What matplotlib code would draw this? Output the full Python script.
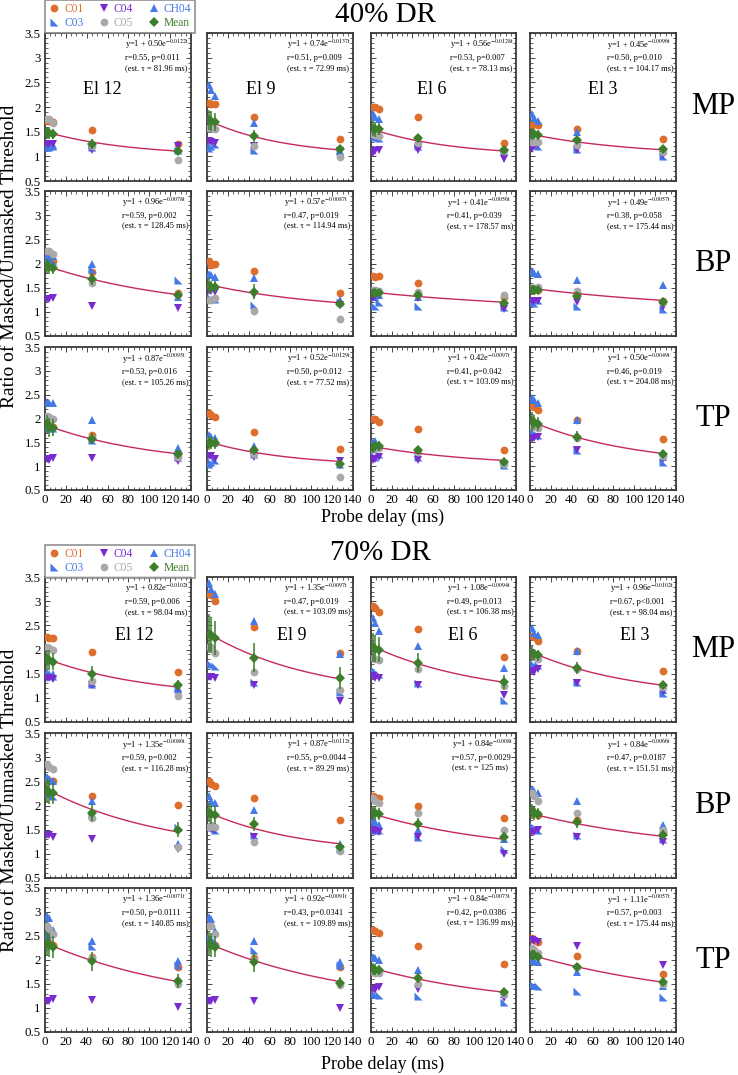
import numpy as np
import matplotlib
matplotlib.use("Agg")
import matplotlib.pyplot as plt
from matplotlib.ticker import MultipleLocator, AutoMinorLocator, FuncFormatter
from matplotlib.lines import Line2D

plt.rcParams['font.family'] = ['Liberation Serif', 'DejaVu Serif']
plt.rcParams['mathtext.fontset'] = 'stix'

# ---------------- data ----------------
delays = [1.5, 4, 8, 45, 128]
electrodes = ['El 12', 'El 9', 'El 6', 'El 3']
row_names = ['MP', 'BP', 'TP']
group_titles = ['40% DR', '70% DR']
series_names = ['C01', 'C03', 'C04', 'C05', 'CH04']

# 40% DR  (each: electrodes El12, El9, El6, El3 x delays)
dr40_mp_C01 = [[1.72, 1.72, 1.70, 1.54, 1.25], [2.09, 2.07, 2.06, 1.79, 1.36], [2.00, 2.00, 1.96, 1.79, 1.28], [1.63, 1.65, 1.63, 1.55, 1.36]]
dr40_mp_C03 = [[1.18, 1.18, 1.20, 1.18, 1.12], [1.17, 1.20, 1.25, 1.13, 1.10], [1.40, 1.42, 1.38, 1.20, 1.10], [1.35, 1.25, 1.20, 1.15, 1.00]]
dr40_mp_C04 = [[1.25, 1.25, 1.25, 1.13, 1.20], [1.32, 1.30, 1.28, 1.20, 1.10], [1.07, 1.10, 1.12, 1.12, 0.95], [1.15, 1.20, 1.22, 1.12, 1.02]]
dr40_mp_C05 = [[1.75, 1.75, 1.68, 1.20, 0.92], [1.58, 1.57, 1.55, 1.20, 0.99], [1.45, 1.43, 1.42, 1.27, 1.10], [1.30, 1.30, 1.30, 1.22, 1.08]]
dr40_mp_CH04 = [[1.22, 1.22, 1.22, 1.22, 1.15], [2.44, 2.35, 2.23, 1.68, 1.10], [1.85, 1.80, 1.75, 1.30, 1.15], [1.85, 1.78, 1.72, 1.50, 1.10]]
dr40_mp_mean = [[1.47, 1.48, 1.45, 1.25, 1.11], [1.74, 1.72, 1.70, 1.41, 1.15], [1.56, 1.55, 1.55, 1.37, 1.13], [1.45, 1.45, 1.44, 1.33, 1.15]]
dr40_mp_err = [[0.12, 0.12, 0.10, 0.10, 0.06], [0.20, 0.20, 0.18, 0.13, 0.06], [0.15, 0.15, 0.12, 0.08, 0.05], [0.12, 0.10, 0.10, 0.08, 0.05]]

dr40_bp_C01 = [[2.09, 2.08, 2.05, 1.82, 1.38], [2.05, 1.97, 1.99, 1.85, 1.40], [1.74, 1.72, 1.74, 1.60, 1.30], [1.48, 1.46, 1.45, 1.38, 1.22]]
dr40_bp_C03 = [[2.12, 2.10, 2.05, 1.88, 1.65], [1.30, 1.28, 1.26, 1.15, 1.20], [1.15, 1.12, 1.20, 1.13, 1.10], [1.20, 1.18, 1.25, 1.12, 1.05]]
dr40_bp_C04 = [[1.27, 1.27, 1.29, 1.12, 1.08], [1.44, 1.44, 1.42, 1.35, 1.15], [1.28, 1.32, 1.35, 1.28, 1.06], [1.22, 1.22, 1.22, 1.20, 1.10]]
dr40_bp_C05 = [[2.26, 2.25, 2.20, 1.59, 1.35], [1.25, 1.25, 1.28, 1.01, 0.85], [1.45, 1.45, 1.44, 1.42, 1.35], [1.50, 1.50, 1.52, 1.43, 1.20]]
dr40_bp_CH04 = [[2.20, 2.18, 2.15, 2.00, 1.30], [1.78, 1.76, 1.73, 1.70, 1.24], [1.38, 1.30, 1.35, 1.30, 1.20], [1.85, 1.80, 1.78, 1.66, 1.55]]
dr40_bp_mean = [[1.94, 1.93, 1.91, 1.68, 1.34], [1.54, 1.52, 1.52, 1.42, 1.16], [1.40, 1.40, 1.40, 1.35, 1.18], [1.45, 1.45, 1.45, 1.33, 1.21]]
dr40_bp_err = [[0.15, 0.15, 0.12, 0.12, 0.08], [0.15, 0.12, 0.12, 0.15, 0.06], [0.08, 0.08, 0.08, 0.06, 0.05], [0.10, 0.10, 0.08, 0.08, 0.06]]

dr40_tp_C01 = [[1.90, 1.85, 1.82, 1.65, 1.28], [2.11, 2.07, 2.04, 1.71, 1.37], [1.98, 1.98, 1.93, 1.77, 1.33], [2.27, 2.25, 2.18, 1.96, 1.57]]
dr40_tp_C03 = [[1.85, 1.80, 1.80, 1.55, 1.20], [1.05, 1.08, 1.12, 1.25, 1.05], [1.25, 1.20, 1.25, 1.20, 1.02], [1.75, 1.70, 1.65, 1.33, 1.08]]
dr40_tp_C04 = [[1.14, 1.12, 1.18, 1.17, 1.10], [1.21, 1.22, 1.15, 1.20, 1.10], [1.12, 1.15, 1.20, 1.13, 1.05], [1.57, 1.60, 1.62, 1.33, 1.15]]
dr40_tp_C05 = [[2.05, 2.03, 2.00, 1.60, 1.20], [1.52, 1.50, 1.48, 1.25, 0.78], [1.35, 1.35, 1.38, 1.30, 1.05], [1.85, 1.82, 1.80, 1.60, 1.22]]
dr40_tp_CH04 = [[2.35, 2.32, 2.32, 1.96, 1.39], [1.66, 1.62, 1.60, 1.42, 1.10], [1.50, 1.52, 1.45, 1.35, 1.10], [2.43, 2.38, 2.32, 1.96, 1.20]]
dr40_tp_mean = [[1.88, 1.82, 1.81, 1.58, 1.25], [1.49, 1.49, 1.49, 1.33, 1.05], [1.39, 1.42, 1.42, 1.33, 1.08], [1.94, 1.92, 1.88, 1.62, 1.26]]
dr40_tp_err = [[0.20, 0.20, 0.18, 0.12, 0.08], [0.15, 0.12, 0.12, 0.10, 0.08], [0.12, 0.10, 0.10, 0.08, 0.05], [0.20, 0.15, 0.15, 0.12, 0.08]]

# 70% DR
dr70_mp_C01 = [[2.26, 2.23, 2.23, 1.94, 1.53], [3.15, 3.12, 3.00, 2.47, 1.92], [2.90, 2.85, 2.78, 2.42, 1.84], [2.27, 2.25, 2.18, 1.96, 1.56]]
dr70_mp_C03 = [[1.50, 1.48, 1.45, 1.28, 1.18], [1.72, 1.70, 1.65, 1.32, 1.13], [1.60, 1.55, 1.50, 1.30, 0.95], [1.72, 1.70, 1.68, 1.33, 1.10]]
dr70_mp_C04 = [[1.42, 1.42, 1.40, 1.27, 1.20], [1.44, 1.43, 1.42, 1.26, 0.93], [1.45, 1.42, 1.42, 1.26, 1.05], [1.55, 1.53, 1.60, 1.30, 1.15]]
dr70_mp_C05 = [[2.06, 2.03, 1.98, 1.35, 1.03], [2.06, 2.06, 1.93, 1.54, 1.17], [1.82, 1.80, 1.78, 1.60, 1.25], [1.95, 1.85, 1.80, 1.60, 1.22]]
dr70_mp_CH04 = [[1.51, 1.50, 1.50, 1.30, 1.20], [3.38, 3.25, 3.15, 2.60, 1.90], [2.65, 2.55, 2.38, 2.08, 1.62], [2.44, 2.35, 2.30, 1.97, 1.16]]
dr70_mp_mean = [[1.80, 1.78, 1.75, 1.50, 1.26], [2.33, 2.30, 2.23, 1.83, 1.41], [2.05, 2.02, 2.00, 1.73, 1.33], [1.92, 1.90, 1.88, 1.62, 1.26]]
dr70_mp_err = [[0.20, 0.20, 0.18, 0.15, 0.10], [0.40, 0.38, 0.35, 0.30, 0.22], [0.30, 0.28, 0.25, 0.20, 0.15], [0.15, 0.12, 0.12, 0.12, 0.06]]

dr70_bp_C01 = [[2.55, 2.50, 2.50, 2.20, 2.02], [2.50, 2.45, 2.40, 2.15, 1.70], [2.20, 2.18, 2.15, 1.98, 1.75], [1.90, 1.85, 1.80, 1.70, 1.45]]
dr70_bp_C03 = [[2.30, 2.25, 2.20, 1.80, 1.55], [1.60, 1.55, 1.50, 1.40, 1.10], [1.55, 1.50, 1.50, 1.35, 1.10], [1.60, 1.55, 1.50, 1.40, 1.30]]
dr70_bp_C04 = [[1.40, 1.38, 1.35, 1.30, 1.10], [1.55, 1.52, 1.50, 1.35, 1.10], [1.50, 1.48, 1.45, 1.35, 1.00], [1.45, 1.45, 1.50, 1.35, 1.25]]
dr70_bp_C05 = [[2.85, 2.80, 2.75, 1.75, 1.15], [1.55, 1.60, 1.55, 1.25, 1.05], [2.15, 2.10, 2.05, 1.85, 1.50], [2.25, 2.20, 2.10, 1.85, 1.50]]
dr70_bp_CH04 = [[2.60, 2.55, 2.50, 2.10, 1.20], [2.20, 2.10, 2.05, 1.90, 1.20], [1.70, 1.65, 1.60, 1.50, 1.30], [2.35, 2.30, 2.25, 2.10, 1.60]]
dr70_bp_mean = [[2.30, 2.28, 2.25, 1.85, 1.50], [1.85, 1.82, 1.80, 1.62, 1.15], [1.85, 1.85, 1.82, 1.62, 1.35], [1.88, 1.85, 1.82, 1.65, 1.40]]
dr70_bp_err = [[0.25, 0.25, 0.22, 0.18, 0.15], [0.20, 0.20, 0.18, 0.15, 0.10], [0.15, 0.15, 0.12, 0.12, 0.10], [0.15, 0.15, 0.12, 0.12, 0.10]]

dr70_tp_C01 = [[2.42, 2.35, 2.32, 2.06, 1.85], [2.42, 2.35, 2.32, 2.04, 1.85], [2.63, 2.60, 2.57, 2.29, 1.92], [2.45, 2.42, 2.38, 2.08, 1.71]]
dr70_tp_C03 = [[2.50, 2.55, 2.60, 2.30, 1.90], [2.50, 2.45, 2.40, 2.20, 1.90], [1.30, 1.30, 1.28, 1.25, 1.13], [1.48, 1.48, 1.45, 1.36, 1.22]]
dr70_tp_C04 = [[1.14, 1.15, 1.18, 1.16, 1.03], [1.14, 1.15, 1.17, 1.14, 1.01], [1.40, 1.38, 1.43, 1.40, 1.20], [2.42, 2.40, 2.38, 2.29, 1.90]]
dr70_tp_C05 = [[2.70, 2.65, 2.55, 2.05, 1.50], [2.70, 2.70, 2.55, 2.00, 1.47], [1.75, 1.73, 1.72, 1.50, 1.30], [2.24, 2.20, 2.15, 1.85, 1.50]]
dr70_tp_CH04 = [[2.91, 2.88, 2.62, 2.39, 1.97], [2.90, 2.85, 2.60, 2.40, 1.95], [2.07, 2.05, 2.00, 1.80, 1.30], [2.00, 1.98, 1.95, 1.76, 1.46]]
dr70_tp_mean = [[2.33, 2.32, 2.27, 1.97, 1.56], [2.33, 2.32, 2.28, 1.95, 1.53], [1.81, 1.80, 1.79, 1.62, 1.33], [2.11, 2.10, 2.07, 1.86, 1.55]]
dr70_tp_err = [[0.25, 0.25, 0.22, 0.20, 0.15], [0.25, 0.25, 0.22, 0.20, 0.12], [0.12, 0.12, 0.10, 0.10, 0.08], [0.10, 0.10, 0.08, 0.08, 0.06]]

# fit annotations (rows MP, BP, TP x electrodes)
dr40_fit_a = [["0.50", "0.74", "0.56", "0.45"], ["0.96", "0.57", "0.41", "0.49"], ["0.87", "0.52", "0.42", "0.50"]]
dr40_fit_b = [["0.0122", "0.0137", "0.0128", "0.0096"], ["0.0078", "0.0087", "0.0056", "0.0057"], ["0.0095", "0.0129", "0.0097", "0.0049"]]
dr40_r = [["0.55", "0.51", "0.53", "0.50"], ["0.59", "0.47", "0.41", "0.38"], ["0.53", "0.50", "0.41", "0.46"]]
dr40_p = [["=0.011", "=0.009", "=0.007", "=0.010"], ["=0.002", "=0.019", "=0.039", "=0.058"], ["=0.016", "=0.012", "=0.042", "=0.019"]]
dr40_tau = [["81.96", "72.99", "78.13", "104.17"], ["128.45", "114.94", "178.57", "175.44"], ["105.26", "77.52", "103.09", "204.08"]]

dr70_fit_a = [["0.82", "1.35", "1.08", "0.96"], ["1.35", "0.87", "0.84", "0.84"], ["1.36", "0.92", "0.84", "1.11"]]
dr70_fit_b = [["0.0102", "0.0097", "0.0094", "0.0102"], ["0.0086", "0.0112", "0.008", "0.0066"], ["0.0071", "0.0091", "0.0073", "0.0057"]]
dr70_r = [["0.59", "0.47", "0.49", "0.67"], ["0.59", "0.55", "0.57", "0.47"], ["0.50", "0.43", "0.42", "0.57"]]
dr70_p = [["=0.006", "=0.019", "=0.013", "<0.001"], ["=0.002", "=0.0044", "=0.0029", "=0.0187"], ["=0.0111", "=0.0341", "=0.0386", "=0.003"]]
dr70_tau = [["98.04", "103.09", "106.38", "98.04"], ["116.28", "89.29", "125", "151.51"], ["140.85", "109.89", "136.99", "175.44"]]

# curve drawn in each panel (mostly matches the printed fit;
# 40% TP El 3 and 70% TP El 9 show different curves)
dr40_curve_a = [[0.50, 0.74, 0.56, 0.45], [0.96, 0.57, 0.41, 0.49], [0.87, 0.52, 0.42, 0.95]]
dr40_curve_b = [[0.0122, 0.0137, 0.0128, 0.0096], [0.0078, 0.0087, 0.0056, 0.0057], [0.0095, 0.0129, 0.0097, 0.0100]]
dr70_curve_a = [[0.82, 1.35, 1.08, 0.96], [1.35, 0.87, 0.84, 0.84], [1.36, 1.36, 0.84, 1.11]]
dr70_curve_b = [[0.0102, 0.0097, 0.0094, 0.0102], [0.0086, 0.0112, 0.008, 0.0066], [0.0071, 0.0071, 0.0073, 0.0057]]

# ---------------- assemble ----------------
groups = [
    {
        'rows': [
            {'C01': dr40_mp_C01, 'C03': dr40_mp_C03, 'C04': dr40_mp_C04, 'C05': dr40_mp_C05, 'CH04': dr40_mp_CH04, 'mean': dr40_mp_mean, 'err': dr40_mp_err},
            {'C01': dr40_bp_C01, 'C03': dr40_bp_C03, 'C04': dr40_bp_C04, 'C05': dr40_bp_C05, 'CH04': dr40_bp_CH04, 'mean': dr40_bp_mean, 'err': dr40_bp_err},
            {'C01': dr40_tp_C01, 'C03': dr40_tp_C03, 'C04': dr40_tp_C04, 'C05': dr40_tp_C05, 'CH04': dr40_tp_CH04, 'mean': dr40_tp_mean, 'err': dr40_tp_err},
        ],
        'a': dr40_fit_a, 'b': dr40_fit_b, 'r': dr40_r, 'p': dr40_p, 'tau': dr40_tau,
        'ca': dr40_curve_a, 'cb': dr40_curve_b,
    },
    {
        'rows': [
            {'C01': dr70_mp_C01, 'C03': dr70_mp_C03, 'C04': dr70_mp_C04, 'C05': dr70_mp_C05, 'CH04': dr70_mp_CH04, 'mean': dr70_mp_mean, 'err': dr70_mp_err},
            {'C01': dr70_bp_C01, 'C03': dr70_bp_C03, 'C04': dr70_bp_C04, 'C05': dr70_bp_C05, 'CH04': dr70_bp_CH04, 'mean': dr70_bp_mean, 'err': dr70_bp_err},
            {'C01': dr70_tp_C01, 'C03': dr70_tp_C03, 'C04': dr70_tp_C04, 'C05': dr70_tp_C05, 'CH04': dr70_tp_CH04, 'mean': dr70_tp_mean, 'err': dr70_tp_err},
        ],
        'a': dr70_fit_a, 'b': dr70_fit_b, 'r': dr70_r, 'p': dr70_p, 'tau': dr70_tau,
        'ca': dr70_curve_a, 'cb': dr70_curve_b,
    },
]

# ---------------- style / layout ----------------
W, H = 738, 1075
C_ORANGE = '#DD6E2C'
C_BLUE = '#4479E6'
C_PURPLE = '#7A2BD0'
C_GRAY = '#A9A9A9'
C_GREEN = '#3C7E2B'
C_FIT = '#C62A5C'
tri_ll = [(-1, -1), (1, -1), (-1, 1), (-1, -1)]

styles = {
    'C01': dict(marker='o', color=C_ORANGE, ms=5.6),
    'C03': dict(marker=tri_ll, color=C_BLUE, ms=5.8),
    'C04': dict(marker='v', color=C_PURPLE, ms=6.0),
    'C05': dict(marker='o', color=C_GRAY, ms=5.6),
    'CH04': dict(marker='^', color=C_BLUE, ms=6.0),
}
draw_order = ['C01', 'CH04', 'C03', 'C04', 'C05']

row_px = [[(33, 181), (191, 336), (347, 490)], [(577, 722), (733, 878), (888, 1032)]]
col_px = [(45, 191), (207, 353), (371, 516), (530, 676)]
el_label_pos = [[(0.39, 2.36), (0.37, 2.36), (0.42, 2.36), (0.50, 2.36)],
                [(0.61, 2.28), (0.58, 2.28), (0.63, 2.28), (0.72, 2.28)]]
title_pos = [(386, 15), (380, 553)]
legend_top = [0, 545]
ylabel_y = [256, 800]
xlabel_y = [517, 1064]

fig = plt.figure(figsize=(W / 100, H / 100), dpi=100)


def fx(x):
    return x / W


def fy(y):
    return 1 - y / H


for g, grp in enumerate(groups):
    for r in range(3):
        y0, y1 = row_px[g][r]
        for c in range(4):
            x0, x1 = col_px[c]
            ax = fig.add_axes([fx(x0), fy(y1), (x1 - x0) / W, (y1 - y0) / H])
            rd = grp['rows'][r]
            for s in draw_order:
                st = styles[s]
                ax.plot(delays, rd[s][c], linestyle='none', marker=st['marker'],
                        color=st['color'], ms=st['ms'], mec=st['color'], mew=0, zorder=3)
            t_fit = np.linspace(delays[0], delays[-1], 200)
            ax.plot(t_fit, 1 + grp['ca'][r][c] * np.exp(-grp['cb'][r][c] * t_fit),
                    color=C_FIT, lw=1.0, zorder=4)
            ax.errorbar(delays, rd['mean'][c], yerr=rd['err'][c], fmt='D', color=C_GREEN,
                        ms=5.2, mew=0, ecolor=C_GREEN, elinewidth=1.1, capsize=3,
                        capthick=1.1, zorder=5)
            txt = ("y=1 + %se$^{-%s\\mathrm{t}}$\nr=%s, p%s\n(est. τ = %s ms)"
                   % (grp['a'][r][c], grp['b'][r][c], grp['r'][r][c], grp['p'][r][c], grp['tau'][r][c]))
            ax.text(0.985, 0.965, txt, transform=ax.transAxes, ha='right', va='top',
                    fontsize=6, linespacing=1.35, multialignment='left')
            if r == 0:
                lx, ly = el_label_pos[g][c]
                ax.text(lx, ly, electrodes[c], transform=ax.get_yaxis_transform(),
                        ha='center', va='center', fontsize=13)
            ax.set_xlim(0, 140)
            ax.set_ylim(0.5, 3.5)
            ax.xaxis.set_major_locator(MultipleLocator(20))
            ax.xaxis.set_minor_locator(AutoMinorLocator(4))
            ax.yaxis.set_major_locator(MultipleLocator(0.5))
            ax.yaxis.set_minor_locator(AutoMinorLocator(5))
            ax.tick_params(which='both', direction='in', top=True, right=True,
                           labelsize=9.3, color='#444444', pad=3)
            ax.tick_params(which='major', length=3.5, width=0.7)
            ax.tick_params(which='minor', length=2, width=0.6)
            ax.yaxis.set_major_formatter(FuncFormatter(lambda v, p: ('%g' % v)))
            if c != 0:
                ax.tick_params(labelleft=False)
            if r != 2:
                ax.tick_params(labelbottom=False)
            for sp in ax.spines.values():
                sp.set_color('#3a3a3a')
                sp.set_linewidth(1.3)
        fig.text(fx(713), fy((y0 + y1) / 2), row_names[r], ha='center', va='center', fontsize=22)

    tx, ty = title_pos[g]
    fig.text(fx(tx), fy(ty), group_titles[g], ha='center', va='center', fontsize=21)
    fig.text(fx(10), fy(ylabel_y[g]), 'Ratio of Masked/Unmasked Threshold', rotation=90,
             ha='center', va='center', fontsize=14)
    fig.text(fx(383), fy(xlabel_y[g]), 'Probe delay (ms)', ha='center', va='center', fontsize=13)

    handles = []
    labels = []
    for s in ['C01', 'C03', 'C04', 'C05', 'CH04']:
        st = styles[s]
        handles.append(Line2D([], [], linestyle='none', marker=st['marker'], color=st['color'],
                              ms=st['ms'], mew=0))
        labels.append(s)
    handles.append(Line2D([], [], linestyle='none', marker='D', color=C_GREEN, ms=5.0, mew=0))
    labels.append('Mean')
    leg = fig.legend(handles, labels, loc='upper left', ncol=3,
                     bbox_to_anchor=(fx(45), fy(legend_top[g])), fontsize=8.3,
                     frameon=True, fancybox=False, edgecolor='#7f7f7f', borderpad=0.3,
                     handlelength=1.0, handletextpad=0.35, columnspacing=1.3,
                     labelspacing=0.15, borderaxespad=0)
    leg.get_frame().set_linewidth(1.3)
    text_colors = [C_ORANGE, C_BLUE, C_PURPLE, C_GRAY, C_BLUE, C_GREEN]
    for t, col in zip(leg.get_texts(), text_colors):
        t.set_color(col)

fig.savefig('out.png', dpi=100)
